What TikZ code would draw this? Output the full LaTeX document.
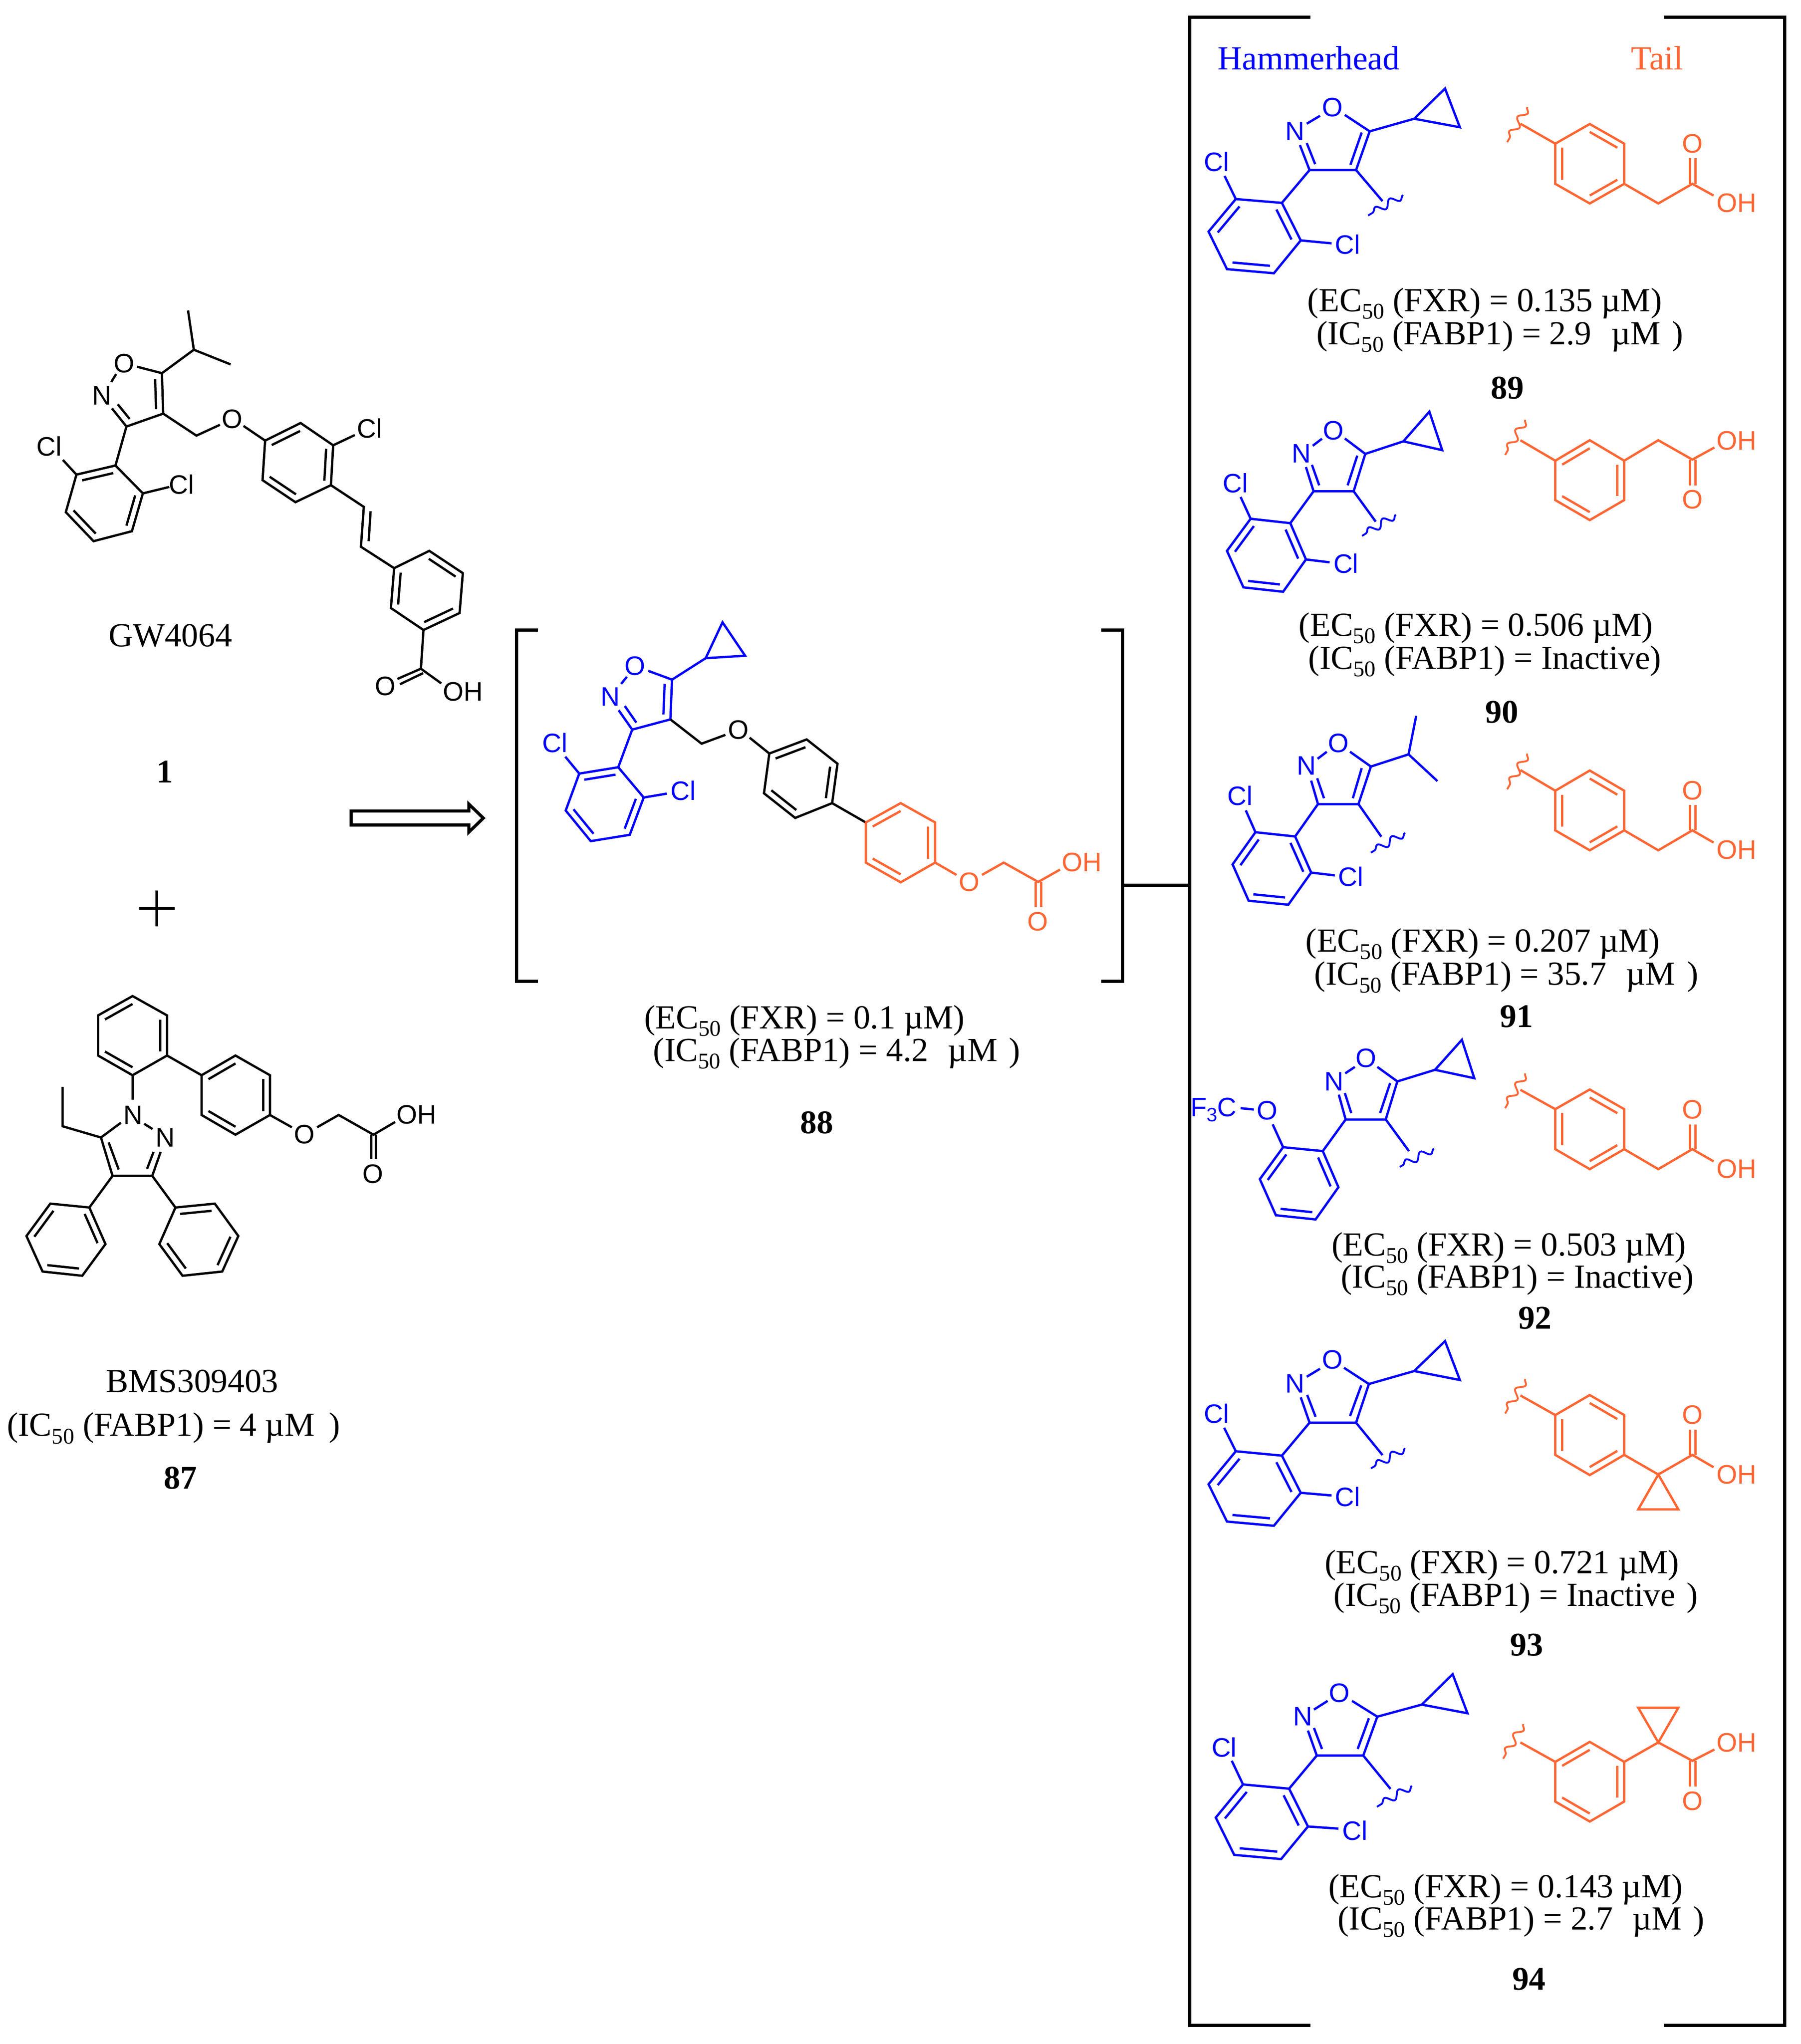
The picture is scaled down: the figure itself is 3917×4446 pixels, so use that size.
\documentclass[tikz,border=0pt]{standalone}
\usepackage{fontspec}
\setmainfont{Liberation Serif}
\newfontfamily\atomfont{Liberation Sans}
\usetikzlibrary{calc,decorations.pathmorphing}
\definecolor{HB}{RGB}{0,0,255}
\definecolor{TL}{RGB}{255,102,51}
\newcounter{nid}
\newcommand\subf{\raisebox{-0.22em}{\fontsize{12.2}{12}\selectfont 50}}
\newcommand\ecl[1]{(EC\subf{} (FXR) = #1 µM)}
\newcommand\icl[1]{(IC\subf{} (FABP1) = #1)}
\newcommand\gapa{\hspace{0.58em}}
\newcommand\gapb{\hspace{0.34em}}
\newcommand\atm[2]{\stepcounter{nid}\node[atomlabel] (a\arabic{nid}) at #1 {#2};}
\newcommand\ttl[2]{\stepcounter{nid}\node[txtline] (t\arabic{nid}) at #1 {#2};}
\newcommand\cpd[2]{\stepcounter{nid}\node[cpdlabel] (b\arabic{nid}) at #1 {#2};}
\newcommand\inb[2]{\draw ($#1!.2!(hc)$) -- ($#2!.2!(hc)$);}
\newcommand\hexr[7]{%
  \draw #1--#2--#3--#4--#5--#6--cycle;
  \coordinate (hc) at ($#1!.5!#4$);
  \ifnum#7=0 \inb{#1}{#2}\inb{#3}{#4}\inb{#5}{#6}\else \inb{#2}{#3}\inb{#4}{#5}\inb{#6}{#1}\fi}
\tikzset{
  zm/.style n args={4}{shift={(#1,#2)},x={#3/6272*1pt},y={-#4/6272*1pt}},
  atomlabel/.style={inner sep=0pt,anchor=center,font=\atomfont\fontsize{14.5}{16}\selectfont},
  txtline/.style={inner sep=0pt,anchor=base west,xshift=-1.25pt,font=\fontsize{18.35}{20}\selectfont},
  cpdlabel/.style={inner sep=0pt,anchor=base,font=\fontsize{18}{20}\selectfont\bfseries},
  hh/.style={color=HB},
  tl/.style={color=TL},
  wavy/.style={line width=1pt,decorate,decoration={snake,amplitude=2pt,segment length=9pt}},
  brk/.style={line width=1.75pt}
}
\begin{document}
\begin{tikzpicture}[x=0.25pt,y=-0.25pt,line width=1.25pt]
\useasboundingbox (0,0) rectangle (3917,4446);
% big bracket
\coordinate (bigL) at (2587.5,1925);
\coordinate (brkR) at (2442,1925);
\draw[brk] (2850,37)--(2587.5,37)--(2587.5,4405)--(2850,4405);
\draw[brk] (3619,37)--(3881,37)--(3881,4405)--(3619,4405);
\draw[brk] (brkR)--(bigL);
% GW4064
\begin{scope}[zm={0}{600}{1100}{1000}]
\atm{(385,298)}{O}\atm{(315,408)}{N}\atm{(153,582)}{Cl}\atm{(563,712)}{Cl}\atm{(720,488)}{O}\atm{(1146,520)}{Cl}\atm{(1194,1400)}{O}\atm{(1435,1418)}{OH}
\draw (583,118)--(601,252)--(715,302);
\draw (601,252)--(502,332);
\draw (425,310)--(502,332)--(506,470)--(392,514)--(347,452);
\draw (360,335)--(345,362);
\draw (365,438)--(402,488);
\draw (481,353)--(484,455);
\draw (392,514)--(358,647);
\hexr{(358,647)}{(237,678)}{(204,806)}{(290,905)}{(409,871)}{(443,742)}{0}
\draw (195,628)--(237,678);
\draw (443,742)--(525,720);
\draw (506,470)--(609,545)--(682,508);
\draw (755,512)--(822,562);
\hexr{(822,562)}{(932,502)}{(1033,578)}{(1026,714)}{(916,772)}{(814,697)}{0}
\draw (1033,578)--(1100,543);
\draw (1026,714)--(1128,788)--(1119,924)--(1222,997);
\draw (1149,803)--(1143,905);
\hexr{(1222,997)}{(1331,938)}{(1435,1014)}{(1425,1150)}{(1313,1208)}{(1212,1133)}{1}
\draw (1313,1208)--(1305,1340);
\draw (1305,1340)--(1232,1375);
\draw (1312,1355)--(1240,1393);
\draw (1305,1340)--(1368,1390);
\ttl{(340,1265)}{GW4064}
\end{scope}
% 1, arrow, plus
\begin{scope}[zm={250}{1600}{850}{531}]
\cpd{(200,303)}{1}
\draw[line width=1.7pt] (948,484)--(1420,484)--(1420,440)--(1478,530)--(1420,620)--(1420,574)--(948,574)--cycle;
\draw[line width=1.55pt] (168,995)--(168,1225);
\draw[line width=1.55pt] (98,1111)--(240,1111);
\end{scope}
% 87
\begin{scope}[zm={0}{2100}{1100}{1200}]
\atm{(944,480)}{O}\atm{(1292,424)}{OH}\atm{(1156,592)}{O}\atm{(412,425)}{N}\atm{(512,490)}{N}
\hexr{(411,87)}{(518,142)}{(518,256)}{(411,312)}{(304,256)}{(304,142)}{1}
\draw (518,256)--(625,312);
\hexr{(625,312)}{(730,256)}{(837,312)}{(837,425)}{(730,481)}{(625,425)}{0}
\draw (837,425)--(905,460);
\draw (983,460)--(1050,425)--(1158,481)--(1225,445);
\draw (1151,481)--(1151,550);
\draw (1166,481)--(1166,550);
\draw (411,312)--(411,382);
\draw (447,450)--(473,465);
\draw (375,447)--(313,489)--(349,598)--(472,598)--(498,530);
\draw (337,503)--(368,580);
\draw (456,578)--(476,530);
\draw (313,489)--(194,457)--(194,345);
\draw (349,598)--(277,688);
\hexr{(277,688)}{(156,677)}{(82,769)}{(132,870)}{(255,882)}{(327,792)}{1}
\draw (472,598)--(544,688);
\hexr{(544,688)}{(666,677)}{(739,769)}{(689,870)}{(566,882)}{(494,792)}{0}
\ttl{(332,1213)}{BMS309403}
\ttl{(25,1338)}{\icl{4 µM\hspace{0.42em}}}
\cpd{(560,1488)}{87}
\end{scope}
% 88
\begin{scope}[zm={1100}{1300}{1400}{1200}]
\draw[brk] (78,92)--(26,92)--(26,1090)--(78,1090);
\draw[brk] (1450,92)--(1503,92)--(1503,1090)--(1450,1090);
\begin{scope}[hh]
\atm{(315,194)}{O}\atm{(255,282)}{N}\atm{(120,413)}{Cl}\atm{(432,549)}{Cl}
\draw (487,172)--(528,70)--(583,165)--cycle;
\draw (405,233)--(487,172);
\draw (347,208)--(405,233)--(401,346)--(308,375)--(275,320);
\draw (295,225)--(281,245);
\draw (290,308)--(318,355);
\draw (387,245)--(384,332);
\draw (308,375)--(274,482);
\hexr{(274,482)}{(179,500)}{(146,605)}{(207,692)}{(302,674)}{(336,568)}{0}
\draw (179,500)--(145,452);
\draw (336,568)--(392,557);
\end{scope}
\atm{(567,376)}{O}
\draw (401,346)--(477,415)--(535,390);
\draw (594,398)--(642,443);
\hexr{(642,443)}{(733,403)}{(808,472)}{(795,584)}{(705,626)}{(629,556)}{0}
\draw (795,584)--(877,639);
\begin{scope}[tl]
\atm{(1129,808)}{O}\atm{(1403,752)}{OH}\atm{(1296,920)}{O}
\hexr{(877,639)}{(962,584)}{(1046,639)}{(1046,753)}{(962,809)}{(877,753)}{0}
\draw (1046,753)--(1098,788);
\draw (1160,788)--(1213,753)--(1297,808)--(1350,773);
\draw (1291,808)--(1291,880);
\draw (1304,808)--(1304,880);
\end{scope}
\ttl{(340,1225)}{\ecl{0.1}}
\ttl{(362,1318)}{\icl{4.2\gapa µM\gapb}}
\cpd{(758,1523)}{88}
\end{scope}
% 89
\begin{scope}[zm={2550}{0}{1367}{1000}]
\begin{scope}[hh]
\ttl{(116,238)}{Hammerhead}
\atm{(399,366)}{O}\atm{(306,447)}{N}\atm{(110,552)}{Cl}\atm{(437,834)}{Cl}
\draw (603,405)--(680,302)--(717,434)--cycle;
\draw (492,448)--(603,405);
\draw (430,392)--(492,448)--(458,580)--(342,580)--(318,495);
\draw (335,422)--(368,395);
\draw (335,488)--(356,560);
\draw (444,562)--(472,452);
\draw (342,580)--(273,692);
\hexr{(273,692)}{(158,679)}{(90,790)}{(136,918)}{(253,932)}{(320,820)}{1}
\draw (158,679)--(130,600);
\draw (320,820)--(397,830);
\draw (458,580)--(524,686);
\draw[wavy] (575,665)--(488,735);
\end{scope}
\begin{scope}[tl]
\ttl{(1147,238)}{Tail}
\atm{(1297,490)}{O}\atm{(1407,693)}{OH}
\draw[wavy] (885,365)--(835,485);
\draw (868,422)--(955,490);
\hexr{(955,490)}{(1041,423)}{(1127,490)}{(1127,627)}{(1041,694)}{(955,627)}{1}
\draw (1127,627)--(1212,694)--(1297,627)--(1350,667);
\draw (1291,627)--(1291,540);
\draw (1305,627)--(1305,540);
\end{scope}
\ttl{(340,1062)}{\ecl{0.135}}
\ttl{(362,1175)}{\icl{2.9\gapa µM\gapb}}
\cpd{(836,1360)}{89}
\end{scope}
% 90
\begin{scope}[zm={2550}{850}{1367}{750}]
\begin{scope}[hh]
\atm{(402,180)}{O}\atm{(322,285)}{N}\atm{(157,420)}{Cl}\atm{(433,785)}{Cl}
\draw (576,230)--(641,95)--(673,270)--cycle;
\draw (481,287)--(576,230);
\draw (430,217)--(481,287)--(452,457)--(352,457)--(333,347);
\draw (350,250)--(373,218);
\draw (348,337)--(366,430);
\draw (437,430)--(461,295);
\draw (352,457)--(294,602);
\hexr{(294,602)}{(195,582)}{(136,728)}{(177,894)}{(276,914)}{(333,767)}{1}
\draw (195,582)--(170,483);
\draw (333,767)--(392,780);
\draw (452,457)--(507,595);
\draw[wavy] (557,563)--(473,660);
\end{scope}
\begin{scope}[tl]
\atm{(1297,495)}{O}\atm{(1407,227)}{OH}
\draw[wavy] (880,132)--(830,292);
\draw (868,225)--(955,318);
\hexr{(955,318)}{(1041,225)}{(1127,318)}{(1127,497)}{(1041,588)}{(955,497)}{0}
\draw (1127,318)--(1212,225)--(1297,313)--(1352,258);
\draw (1291,313)--(1291,430);
\draw (1305,313)--(1305,430);
\end{scope}
\ttl{(318,1115)}{\ecl{0.506}}
\ttl{(342,1265)}{\icl{Inactive}}
\cpd{(822,1510)}{90}
\end{scope}
% 91
\begin{scope}[zm={2550}{1500}{1367}{800}]
\begin{scope}[hh]
\atm{(414,228)}{O}\atm{(334,325)}{N}\atm{(169,453)}{Cl}\atm{(445,797)}{Cl}
\draw (495,328)--(589,276)--(608,112);
\draw (589,276)--(661,390);
\draw (443,265)--(495,328)--(464,488)--(363,488)--(346,388);
\draw (362,295)--(385,265);
\draw (361,378)--(378,463);
\draw (450,463)--(472,335);
\draw (363,488)--(306,626);
\hexr{(306,626)}{(207,608)}{(150,745)}{(190,900)}{(289,917)}{(346,780)}{1}
\draw (207,608)--(183,515);
\draw (346,780)--(405,792);
\draw (464,488)--(521,627);
\draw[wavy] (580,610)--(495,695);
\end{scope}
\begin{scope}[tl]
\atm{(1297,430)}{O}\atm{(1407,683)}{OH}
\draw[wavy] (885,273)--(835,425);
\draw (868,343)--(955,431);
\hexr{(955,431)}{(1041,345)}{(1127,431)}{(1127,600)}{(1041,685)}{(955,600)}{1}
\draw (1127,600)--(1212,685)--(1297,600)--(1350,652);
\draw (1291,600)--(1291,492);
\draw (1305,600)--(1305,492);
\end{scope}
\ttl{(335,1118)}{\ecl{0.207}}
\ttl{(357,1260)}{\icl{35.7\gapa µM\gapb}}
\cpd{(858,1440)}{91}
\end{scope}
% 92
\begin{scope}[zm={2550}{2200}{1367}{1100}]
\begin{scope}[hh]
\atm{(483,145)}{O}\atm{(403,218)}{N}\atm{(236,307)}{O}
\stepcounter{nid}\node[atomlabel,anchor=base west] (f3c) at (42,325) {F\raisebox{-.2em}{\fontsize{10.5}{10}\selectfont 3}C};
\draw (655,181)--(722,88)--(753,207)--cycle;
\draw (561,217)--(655,181);
\draw (511,172)--(561,217)--(532,335)--(432,335)--(415,258);
\draw (431,192)--(455,172);
\draw (430,253)--(446,315);
\draw (518,315)--(543,222);
\draw (432,335)--(375,433);
\hexr{(375,433)}{(276,421)}{(218,520)}{(258,632)}{(357,645)}{(414,545)}{1}
\draw (276,421)--(250,350);
\draw (170,300)--(203,304);
\draw (532,335)--(590,433);
\draw[wavy] (652,425)--(567,482);
\end{scope}
\begin{scope}[tl]
\atm{(1297,304)}{O}\atm{(1407,488)}{OH}
\draw[wavy] (880,192)--(830,300);
\draw (868,243)--(955,303);
\hexr{(955,303)}{(1041,242)}{(1127,303)}{(1127,427)}{(1041,489)}{(955,427)}{1}
\draw (1127,427)--(1212,489)--(1297,427)--(1350,465);
\draw (1291,427)--(1291,350);
\draw (1305,427)--(1305,350);
\end{scope}
\ttl{(400,757)}{\ecl{0.503}}
\ttl{(423,857)}{\icl{Inactive}}
\cpd{(905,985)}{92}
\end{scope}
% 93
\begin{scope}[zm={2550}{3000}{1367}{650}]
\begin{scope}[hh]
\atm{(399,-102)}{O}\atm{(306,22)}{N}\atm{(110,180)}{Cl}\atm{(437,617)}{Cl}
\draw (603,-43)--(680,-200)--(717,4)--cycle;
\draw (490,25)--(603,-43);
\draw (428,-60)--(490,25)--(458,228)--(342,228)--(320,95);
\draw (335,-13)--(368,-55);
\draw (336,82)--(357,197);
\draw (443,193)--(471,32);
\draw (342,228)--(273,401);
\hexr{(273,401)}{(158,378)}{(90,551)}{(136,747)}{(253,769)}{(320,596)}{1}
\draw (158,378)--(129,255);
\draw (320,596)--(397,610);
\draw (458,228)--(524,398);
\draw[wavy] (580,362)--(495,468);
\end{scope}
\begin{scope}[tl]
\atm{(1297,188)}{O}\atm{(1407,500)}{OH}
\draw[wavy] (880,-1)--(830,180);
\draw (868,85)--(955,188);
\hexr{(955,188)}{(1041,83)}{(1127,188)}{(1127,397)}{(1041,503)}{(955,397)}{1}
\draw (1127,397)--(1212,500)--(1297,397)--(1350,462);
\draw (1291,397)--(1291,265);
\draw (1305,397)--(1305,265);
\draw (1212,500)--(1162,683)--(1262,683)--cycle;
\end{scope}
\ttl{(383,1020)}{\ecl{0.721}}
\ttl{(405,1190)}{\icl{Inactive\gapb}}
\cpd{(884,1452)}{93}
\end{scope}
% 94
\begin{scope}[zm={2550}{3550}{1367}{896}]
\begin{scope}[hh]
\atm{(417,232)}{O}\atm{(325,322)}{N}\atm{(129,438)}{Cl}\atm{(455,755)}{Cl}
\draw (622,276)--(699,160)--(736,309)--cycle;
\draw (511,322)--(622,276);
\draw (448,262)--(511,322)--(476,470)--(360,470)--(338,375);
\draw (353,295)--(387,262);
\draw (353,365)--(373,445);
\draw (462,445)--(490,328);
\draw (360,470)--(291,596);
\hexr{(291,596)}{(176,580)}{(108,706)}{(154,848)}{(271,864)}{(338,740)}{1}
\draw (176,580)--(148,490);
\draw (338,740)--(414,748);
\draw (476,470)--(544,597);
\draw[wavy] (597,585)--(510,665);
\end{scope}
\begin{scope}[tl]
\atm{(1297,643)}{O}\atm{(1407,420)}{OH}
\draw[wavy] (875,350)--(825,482);
\draw (868,420)--(955,494);
\hexr{(955,494)}{(1041,418)}{(1127,494)}{(1127,645)}{(1041,721)}{(955,645)}{0}
\draw (1127,494)--(1212,420)--(1297,490)--(1352,447);
\draw (1212,420)--(1162,288)--(1262,288)--cycle;
\draw (1291,490)--(1291,588);
\draw (1305,490)--(1305,588);
\end{scope}
\ttl{(392,1010)}{\ecl{0.143}}
\ttl{(415,1133)}{\icl{2.7\gapa µM\gapb}}
\cpd{(889,1362)}{94}
\end{scope}
\end{tikzpicture}
\end{document}
